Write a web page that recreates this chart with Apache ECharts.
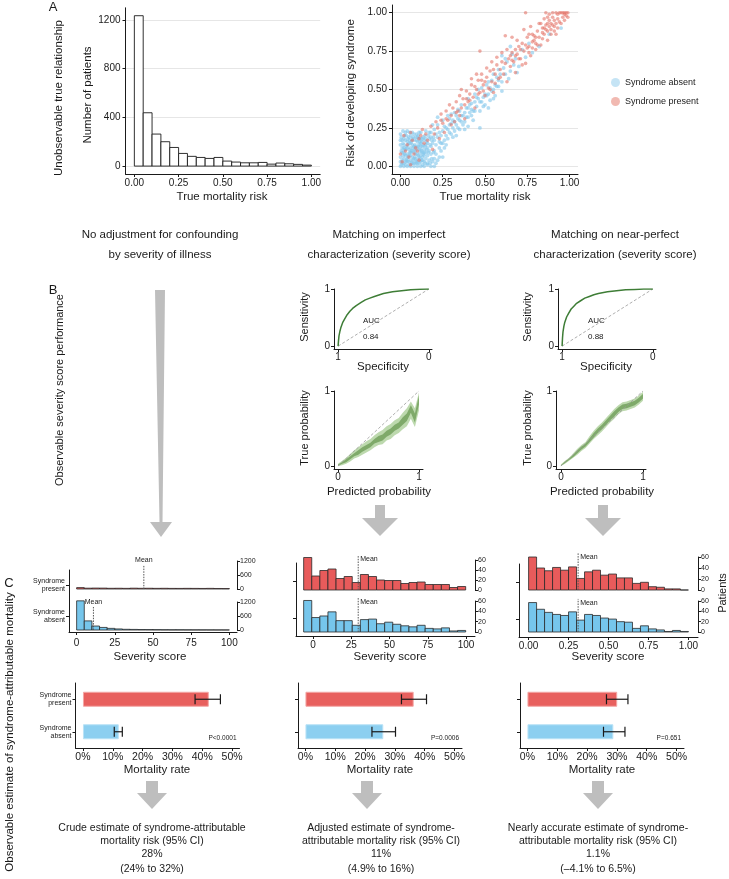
<!DOCTYPE html>
<html><head><meta charset="utf-8">
<script src="https://cdn.jsdelivr.net/npm/echarts@6/dist/echarts.min.js"></script>
<style>html,body{margin:0;padding:0;background:#fff}#c{width:729px;height:879px}</style>
</head><body><div id="c"></div>
<script>
// ---------------- DATA ----------------
// Panel A: histogram of true mortality risk
const histEdges = [0,0.05,0.1,0.15,0.2,0.25,0.3,0.35,0.4,0.45,0.5,0.55,0.6,0.65,0.7,0.75,0.8,0.85,0.9,0.95,1.0];
const histCounts = [1235,438,263,200,153,104,80,71,63,71,41,33,27,27,30,16,25,19,14,8];
const histXTicks = [0,0.25,0.5,0.75,1];
const histYTicks = [0,400,800,1200];
// Panel A: scatter [true mortality risk, risk of developing syndrome]
const scatterAbsent = [[0,0],[0.01,0.02],[0.02,0.05],[0.03,0.01],[0.04,0.08],[0.05,0.03],[0.06,0.12],[0.07,0.06],[0.08,0.02],[0.09,0.1],[0.1,0.04],[0.11,0.14],[0.12,0.07],[0.13,0.01],[0.14,0.11],[0.15,0.05],
[0.005,0.1],[0.015,0.15],[0.025,0.2],[0.035,0.13],[0.045,0.18],[0.055,0.22],[0.065,0.16],[0.075,0.19],[0.085,0.14],[0.095,0.17],[0.105,0.2],[0.115,0.09],[0.125,0.16],[0.135,0.19],[0.145,0.13],
[0,0.06],[0,0.14],[0,0.21],[0.01,0.09],[0.02,0.12],[0.03,0.17],[0.04,0.03],[0.05,0.11],[0.06,0.07],[0.07,0.14],[0.08,0.09],[0.09,0.05],[0.1,0.12],[0.11,0.02],[0.12,0.11],[0.13,0.06],[0.14,0.03],
[0.02,0],[0.04,0],[0.06,0],[0.08,0],[0.1,0],[0.12,0],[0.14,0],[0.16,0.01],[0.17,0.04],[0.18,0.08],[0.16,0.12],[0.19,0.15],[0.17,0.18],[0.2,0.1],[0.21,0.14],[0.22,0.19],[0.18,0.22],[0.2,0.05],
[0.01,0.04],[0.03,0.07],[0.05,0.15],[0.07,0.1],[0.09,0.02],[0.11,0.06],[0.13,0.13],[0.15,0.09],[0.02,0.18],[0.04,0.12],[0.06,0.04],[0.08,0.17],[0.1,0.08],[0.12,0.15],[0.14,0.17],[0.03,0.03],[0.05,0.07],[0.07,0.02],[0.09,0.13],[0.11,0.18],[0.01,0.12],[0.13,0.09],[0.15,0.14],[0.06,0.2],[0.08,0.05],[0.04,0.23],[0.1,0.16],[0.12,0.03],[0.02,0.09],[0.16,0.07],[0,0.17],[0.03,0.11],[0.07,0.18],[0.09,0.08],[0.11,0.11],[0.05,0.01],[0.13,0.04],[0.15,0.18],[0.17,0.1],[0.19,0.03],[0.08,0.21],[0.14,0.07],[0.06,0.09],[0.1,0.19],[0.12,0.18],[0,0.03],[0.02,0.14],[0.04,0.16],[0.18,0.13],[0.2,0.17],[0.12,0.22],
[0.005,0.01],[0.015,0.07],[0.025,0.11],[0.035,0.04],[0.045,0.14],[0.055,0.09],[0.065,0.02],[0.075,0.12],[0.085,0.06],[0.095,0.21],[0.105,0.13],[0.115,0.05],[0.125,0.1],[0.135,0.14],[0.145,0.2],[0.155,0.16],[0.165,0.09],[0.175,0.14],[0.185,0.05],[0.195,0.19],
[0.005,0.19],[0.015,0.23],[0.025,0.08],[0.035,0.2],[0.045,0.06],[0.055,0.17],[0.065,0.1],[0.075,0.04],[0.085,0.11],[0.095,0.03],[0.105,0.07],[0.115,0.16],[0.125,0.04],[0.135,0.08],[0.145,0.02],[0.155,0.11],[0.165,0.2],[0.175,0.02],[0.185,0.17],[0.195,0.09],
[0.01,0.17],[0.03,0.22],[0.05,0.19],[0.07,0.22],[0.09,0.19],[0.11,0.22],[0.13,0.18],[0.15,0.23],[0.02,0.02],[0.04,0.05],[0.06,0.15],[0.08,0.13],[0.1,0.02],[0.12,0.13],[0.14,0.09],[0.16,0.15],[0.18,0.19],[0.21,0.02],[0.23,0.06],[0.24,0.15],
[0.2,0.24],[0.22,0.27],[0.23,0.12],[0.24,0.2],[0.25,0.3],[0.26,0.17],[0.27,0.25],[0.28,0.33],[0.29,0.22],[0.3,0.28],[0.31,0.19],[0.32,0.35],[0.33,0.27],[0.34,0.31],[0.35,0.24],[0.36,0.4],[0.37,0.33],[0.38,0.29],[0.39,0.38],[0.4,0.44],[0.41,0.35],[0.42,0.41],[0.43,0.3],[0.44,0.47],[0.45,0.39],[0.46,0.44],[0.47,0.36],[0.48,0.51],[0.49,0.45],[0.5,0.4],[0.51,0.53],[0.52,0.47],[0.53,0.43],[0.54,0.56],[0.55,0.5],[0.56,0.46],[0.57,0.58],[0.58,0.52],[0.6,0.55],[0.62,0.6],[0.63,0.68],[0.65,0.62],[0.66,0.73],[0.68,0.7],[0.7,0.65],[0.72,0.76],[0.74,0.71],[0.76,0.8],[0.78,0.74],[0.82,0.78],[0.88,0.86],[0.95,0.9],
[0.21,0.08],[0.23,0.22],[0.25,0.15],[0.27,0.2],[0.29,0.27],[0.31,0.25],[0.33,0.2],[0.35,0.3],[0.24,0.1],[0.26,0.26],[0.28,0.18],[0.3,0.34],[0.32,0.23],[0.34,0.37],[0.36,0.29],[0.38,0.35],[0.4,0.32],[0.42,0.37],[0.44,0.42],[0.46,0.5],[0.48,0.42],[0.5,0.47],[0.52,0.55],[0.54,0.49],[0.56,0.53],[0.58,0.56],[0.6,0.49],[0.61,0.64],[0.64,0.57],[0.67,0.66],[0.69,0.61],[0.62,0.7],[0.58,0.63],[0.47,0.25],[0.4,0.26],[0.52,0.38],[0.22,0.32],[0.19,0.27],[0.17,0.22],[0.16,0.02],[0.2,0],[0.22,0.04],[0.25,0.06],[0.18,0],[0.6,0.72],[0.65,0.78],[0.55,0.6],
[0.21,0.21],[0.23,0.16],[0.25,0.23],[0.27,0.14],[0.29,0.31],[0.31,0.3],[0.33,0.33],[0.35,0.36],[0.37,0.27],[0.39,0.32],[0.41,0.4],[0.43,0.36],[0.45,0.45],[0.47,0.42],[0.49,0.39],[0.51,0.46],[0.53,0.51],[0.55,0.44],[0.57,0.52],[0.59,0.6],[0.26,0.12],[0.28,0.24],[0.3,0.21],[0.32,0.29],[0.34,0.25],[0.36,0.33],[0.38,0.24],[0.4,0.38],[0.42,0.33],[0.44,0.36]];
const scatterPresent = [[0.01,0.03],[0.03,0.1],[0.05,0.06],[0.07,0.17],[0.09,0.12],[0.11,0.04],[0.12,0.2],[0.14,0.15],[0.04,0.14],[0.02,0.2],[0.08,0.08],[0.1,0.1],[0.13,0.24],[0.15,0.21],[0.06,0.01],[0.16,0.17],[0.18,0.26],[0.19,0.11],[0.2,0.21],[0.21,0.29],[0,0.08],[0.06,0.22],[0.11,0.18],
[0.22,0.25],[0.23,0.18],[0.24,0.34],[0.25,0.28],[0.26,0.22],[0.27,0.36],[0.28,0.3],[0.29,0.4],[0.3,0.33],[0.31,0.38],[0.32,0.29],[0.33,0.42],[0.34,0.36],[0.35,0.46],[0.36,0.38],[0.37,0.44],[0.38,0.31],[0.39,0.49],[0.4,0.42],[0.41,0.47],[0.42,0.53],[0.43,0.45],[0.44,0.38],[0.45,0.5],[0.46,0.56],[0.47,0.48],[0.48,0.6],[0.49,0.53],[0.5,0.46],[0.51,0.58],[0.52,0.51],[0.53,0.62],[0.54,0.55],[0.55,0.48],[0.56,0.6],[0.57,0.66],[0.58,0.57],[0.59,0.63],[0.6,0.68],[0.61,0.6],[0.62,0.67],[0.63,0.55],[0.64,0.7],[0.65,0.65],[0.66,0.74],[0.67,0.68],[0.68,0.61],[0.69,0.73],[0.7,0.78],[0.71,0.7],[0.72,0.8],[0.73,0.75],[0.74,0.67],[0.75,0.84],[0.76,0.78],[0.77,0.72],[0.78,0.86],[0.79,0.82],[0.8,0.76],[0.81,0.88],[0.82,0.84],[0.83,0.79],[0.84,0.9],[0.85,0.86],[0.86,0.92],[0.87,0.82],[0.88,0.95],[0.89,0.89],[0.9,0.97],[0.91,0.91],[0.92,0.86],[0.93,0.99],[0.94,0.94],[0.95,1],[0.96,0.97],[0.97,0.99],[0.98,0.98],[0.9,1],[0.92,1],[0.86,1],[0.74,1],[0.88,0.99],[0.96,1],[0.85,0.96],[0.83,0.93],[0.87,0.88],[0.8,0.8],[0.78,0.77],[0.73,0.89],[0.69,0.82],[0.66,0.84],[0.63,0.76],[0.6,0.74],[0.57,0.71],[0.54,0.68],[0.51,0.64],[0.48,0.56],[0.45,0.6],[0.42,0.57],[0.39,0.44],[0.36,0.5],[0.33,0.35],[0.3,0.27],[0.27,0.31],[0.24,0.3],[0.47,0.75],[0.62,0.85],[0.49,0.49],[0.53,0.5],[0.56,0.54],[0.59,0.58],[0.44,0.52],[0.41,0.43],[0.38,0.4],[0.35,0.33],[0.46,0.47],[0.5,0.55],[0.55,0.63],[0.65,0.72],[0.7,0.7],[0.72,0.66],[0.75,0.77],[0.77,0.91],[0.79,0.85],[0.82,0.93],[0.84,0.83],[0.89,0.93],[0.91,0.95],[0.93,0.9],[0.97,0.95],[0.99,0.97],[0.94,1],[0.98,1],[0.87,0.97],[0.81,0.79],[0.76,0.86],[0.68,0.76],
[0.85,0.9],[0.87,0.93],[0.89,0.86],[0.91,0.88],[0.93,0.96],[0.95,0.93],[0.97,1],[0.99,1],[0.92,0.93],[0.9,0.92],[0.86,0.89],[0.88,0.91],[0.84,0.87],[0.8,0.84],[0.78,0.81],[0.76,0.74],[0.74,0.79],[0.71,0.76],[0.68,0.72],[0.66,0.69]];
const scatterTicks = [0,0.25,0.5,0.75,1];

// Panel B: ROC curves [specificity, sensitivity]
const rocSpec = [1,0.995,0.99,0.98,0.97,0.95,0.93,0.9,0.87,0.84,0.8,0.75,0.7,0.65,0.6,0.5,0.4,0.3,0.2,0.1,0];
const rocSensImperfect = [0,0.1,0.18,0.26,0.32,0.41,0.47,0.55,0.61,0.66,0.71,0.76,0.81,0.84,0.87,0.92,0.95,0.97,0.985,0.996,1];
const rocSensNearPerfect = [0,0.15,0.25,0.35,0.42,0.51,0.57,0.65,0.7,0.75,0.79,0.84,0.87,0.9,0.92,0.95,0.97,0.985,0.993,0.998,1];
const aucLabels = ['0.84','0.88'];
// Panel B: calibration bands
const calX = [0,0.05,0.1,0.15,0.2,0.25,0.3,0.35,0.4,0.45,0.5,0.55,0.6,0.65,0.7,0.75,0.8,0.85,0.9,0.95,1.0];
const cal2DarkLo  = [0.00,0.03,0.05,0.09,0.13,0.15,0.19,0.22,0.25,0.30,0.32,0.34,0.39,0.42,0.47,0.50,0.55,0.60,0.71,0.58,0.82];
const cal2DarkHi  = [0.02,0.05,0.09,0.13,0.17,0.21,0.25,0.28,0.31,0.36,0.40,0.42,0.47,0.50,0.55,0.58,0.65,0.70,0.81,0.70,0.94];
const cal2LightLo = [0.00,0.01,0.03,0.06,0.10,0.12,0.15,0.18,0.21,0.25,0.28,0.29,0.34,0.36,0.41,0.44,0.49,0.53,0.63,0.52,0.74];
const cal2LightHi = [0.03,0.07,0.11,0.16,0.21,0.25,0.29,0.33,0.36,0.41,0.45,0.48,0.53,0.56,0.61,0.64,0.71,0.77,0.86,0.77,0.98];
const cal3DarkLo  = [0.00,0.04,0.08,0.12,0.17,0.22,0.26,0.32,0.38,0.44,0.49,0.55,0.61,0.66,0.72,0.76,0.77,0.79,0.81,0.85,0.90];
const cal3DarkHi  = [0.01,0.06,0.10,0.15,0.21,0.26,0.30,0.37,0.44,0.50,0.55,0.61,0.67,0.73,0.78,0.82,0.83,0.85,0.87,0.91,0.96];
const cal3LightLo = [0.00,0.03,0.07,0.11,0.15,0.20,0.24,0.30,0.36,0.41,0.46,0.52,0.58,0.63,0.69,0.73,0.74,0.76,0.78,0.82,0.87];
const cal3LightHi = [0.02,0.07,0.11,0.17,0.23,0.28,0.32,0.40,0.47,0.53,0.58,0.64,0.70,0.76,0.81,0.85,0.86,0.88,0.90,0.94,0.99];

// Panel C: severity-score histograms
const sevEdges1 = [0,5,10,15,20,25,30,35,40,45,50,55,60,65,70,75,80,85,90,95,100];
const sevPresent1 = [60,35,40,38,30,32,28,35,30,32,28,30,26,25,28,26,24,27,22,20];
const sevAbsent1  = [1250,390,170,110,70,45,30,25,20,18,15,12,10,10,8,7,6,5,4,3];
const sevEdges2 = [-6.2,-0.9,4.4,9.7,15.0,20.3,25.6,30.9,36.2,41.5,46.8,52.1,57.4,62.7,68.0,73.3,78.6,83.9,89.2,94.5,99.8];
const sevPresent2 = [65,28,39,42,23,27,15,31,27,20,19,19,13,15,16,11,11,11,5,7];
const sevAbsent2  = [61,28,31,39,22,22,13,24,25,16,19,15,12,10,13,7,6,8,2,3];
const sevEdges3 = [0,0.05,0.1,0.15,0.2,0.25,0.3,0.35,0.4,0.45,0.5,0.55,0.6,0.65,0.7,0.75,0.8,0.85,0.9,0.95,1.0];
const sevPresent3 = [60,40,35,41,36,42,21,33,36,27,29,22,22,12,14,6,5,2,2,0];
const sevAbsent3  = [57,44,38,34,32,39,23,34,32,27,25,20,19,7,12,6,4,1,3,1];
const meanPresent = [44, 29.5, 0.31];
const meanAbsent  = [11, 29.5, 0.31];
const sevTicks1 = [0,25,50,75,100];
const sevTicks2 = [0,25,50,75,100];
const sevTicks3 = [0,0.25,0.5,0.75,1];
const groupCats = ['Syndrome absent','Syndrome present'];
// Panel C: mortality rates (%)
const mortPresent = [42.2, 36.3, 30.1];
const mortPresentLo = [37.6, 32.2, 26.5];
const mortPresentHi = [46.1, 40.6, 33.7];
const mortAbsent = [12.0, 26.1, 28.8];
const mortAbsentLo = [10.5, 22.3, 25.5];
const mortAbsentHi = [13.2, 30.2, 32.7];
const mortTicks = [0,10,20,30,40,50];
const pValues = ['P<0.0001','P=0.0006','P=0.651'];
// Bottom estimates
const estLine1 = ['Crude estimate of syndrome-attributable','Adjusted estimate of syndrome-','Nearly accurate estimate of syndrome-'];
const estLine2 = ['mortality risk (95% CI)','attributable mortality risk (95% CI)','attributable mortality risk (95% CI)'];
const estValue = ['28%','11%','1.1%'];
const estCI = ['(24% to 32%)','(4.9% to 16%)','(\u20134.1% to 6.5%)'];
const colHeads = [['No adjustment for confounding','by severity of illness'],['Matching on imperfect','characterization (severity score)'],['Matching on near-perfect','characterization (severity score)']];

// ---------------- STYLE / BUILD ----------------
const FONT = "'Liberation Sans', Arial, Helvetica, sans-serif";
const INK = '#1a1a1a';
const RED = '#E85B5B', BLUE = '#76C6EC';
const grids = [], xAxes = [], yAxes = [], series = [], graphics = [];
const plain = v => String(v);

function ax(o) {
  const base = {
    axisLine: {show: true, onZero: false, lineStyle: {color: INK, width: 1}},
    axisTick: {show: true, length: 3, lineStyle: {color: INK, width: 1}},
    axisLabel: {color: INK, fontSize: 10, fontFamily: FONT, formatter: plain},
    splitLine: {show: false}
  };
  for (const k in o) {
    if (base[k] && o[k] && typeof o[k] === 'object' && !Array.isArray(o[k])) base[k] = Object.assign({}, base[k], o[k]);
    else base[k] = o[k];
  }
  return base;
}
function addGrid(g, xa, ya) {
  grids.push(g);
  const i = grids.length - 1;
  xa.gridIndex = i; ya.gridIndex = i;
  xAxes.push(xa); yAxes.push(ya);
  return i;
}
function rectRender(fill, stroke, lw) {
  return function (params, api) {
    const p0 = api.coord([api.value(0), 0]);
    const p1 = api.coord([api.value(1), api.value(2)]);
    return {type: 'rect', shape: {x: p0[0], y: p1[1], width: p1[0] - p0[0], height: p0[1] - p1[1]},
      style: {fill: fill, stroke: stroke, lineWidth: lw}};
  };
}
function histSeries(gi, edges, counts, fill, stroke, lw) {
  series.push({type: 'custom', xAxisIndex: gi, yAxisIndex: gi, silent: true, clip: false,
    encode: {x: [0, 1], y: 2},
    data: counts.map((c, i) => [edges[i], edges[i + 1], c]),
    renderItem: rectRender(fill, stroke, lw)});
}
function bandSeries(gi, xs, lo, hi, color, z) {
  series.push({type: 'custom', xAxisIndex: gi, yAxisIndex: gi, silent: true, z: z,
    data: [[xs[0], lo[0]]],
    renderItem: function (params, api) {
      const pts = [];
      for (let i = 0; i < xs.length; i++) pts.push(api.coord([xs[i], hi[i]]));
      for (let i = xs.length - 1; i >= 0; i--) pts.push(api.coord([xs[i], lo[i]]));
      return {type: 'polygon', shape: {points: pts}, style: {fill: color}};
    }});
}
function meanSeries(gi, mean, lineTop, mode) {
  series.push({type: 'custom', xAxisIndex: gi, yAxisIndex: gi, silent: true, clip: false, z: 5,
    data: [[mean]],
    renderItem: function (params, api) {
      const m = api.value(0);
      const p0 = api.coord([m, 0]), p1 = api.coord([m, lineTop]);
      const line = {type: 'line', shape: {x1: p0[0], y1: p0[1], x2: p1[0], y2: p1[1]},
        style: {stroke: '#555', lineWidth: 1, lineDash: [1.5, 1.2]}};
      const t = mode === 'above'
        ? {type: 'text', x: p1[0], y: p1[1] - 1, style: {text: 'Mean', fontSize: 7, fontFamily: FONT, fill: INK, align: 'center', verticalAlign: 'bottom'}}
        : {type: 'text', x: p1[0] + 2, y: p1[1] + 0.5, style: {text: 'Mean', fontSize: 7, fontFamily: FONT, fill: INK, align: 'left', verticalAlign: 'top'}};
      return {type: 'group', children: [line, t]};
    }});
}
function txt(x, y, s, size, o) {
  o = o || {};
  return {type: 'text', x: x, y: y, rotation: o.rot || 0, silent: true, z: 20,
    style: {text: s, fontSize: size, fontFamily: FONT, fill: o.fill || INK, align: o.align || 'center', verticalAlign: o.va || 'middle'}};
}
function arrow(pts) {
  graphics.push({type: 'polygon', silent: true, z: 1, shape: {points: pts}, style: {fill: '#BEBEBE'}});
}

// ---- Panel A histogram
const gA = addGrid({left: 125.5, top: 7.8, width: 194.7, height: 166.2},
  ax({type: 'value', min: -0.05, max: 1.05, axisTick: {customValues: histXTicks}, axisLabel: {customValues: histXTicks, formatter: v => v.toFixed(2), margin: 4}}),
  ax({type: 'value', min: -65, max: 1300, axisTick: {customValues: histYTicks}, axisLabel: {customValues: histYTicks, margin: 5},
      splitLine: {show: true, customValues: histYTicks, lineStyle: {color: '#E6E6E6', width: 1}}}));
histSeries(gA, histEdges, histCounts, '#ffffff', INK, 0.9);

// ---- Panel A scatter
const gS = addGrid({left: 392, top: 5, width: 186, height: 169},
  ax({type: 'value', min: -0.05, max: 1.05, axisTick: {customValues: scatterTicks}, axisLabel: {customValues: scatterTicks, formatter: v => v.toFixed(2), margin: 4}}),
  ax({type: 'value', min: -0.05, max: 1.05, axisTick: {customValues: scatterTicks}, axisLabel: {customValues: scatterTicks, formatter: v => v.toFixed(2), margin: 5},
      splitLine: {show: true, customValues: scatterTicks, lineStyle: {color: '#E6E6E6', width: 1}}}));
series.push({type: 'scatter', name: 'Syndrome absent', xAxisIndex: gS, yAxisIndex: gS, data: scatterAbsent, symbolSize: 3.8, silent: true,
  itemStyle: {color: 'rgba(130,198,235,0.75)'}});
series.push({type: 'scatter', name: 'Syndrome present', xAxisIndex: gS, yAxisIndex: gS, data: scatterPresent, symbolSize: 3.6, silent: true,
  itemStyle: {color: 'rgba(228,112,100,0.72)'}});

// ---- Panel B ROC
function rocGrid(left, sens) {
  const g = addGrid({left: left, top: 289, width: 98, height: 60},
    ax({type: 'value', min: -0.035, max: 1.045, inverse: true, axisTick: {customValues: [0, 1]}, axisLabel: {customValues: [0, 1], margin: 3}}),
    ax({type: 'value', min: -0.05, max: 1, axisTick: {customValues: [0, 1]}, axisLabel: {customValues: [0, 1], margin: 4}}));
  series.push({type: 'line', xAxisIndex: g, yAxisIndex: g, data: [[1, 0], [0, 1]], showSymbol: false, silent: true,
    lineStyle: {color: '#9a9a9a', width: 0.8, type: [3, 2]}});
  series.push({type: 'line', xAxisIndex: g, yAxisIndex: g, data: rocSpec.map((s, i) => [s, sens[i]]), showSymbol: false, silent: true,
    lineStyle: {color: '#3E7D36', width: 1.5}});
  return g;
}
rocGrid(334, rocSensImperfect);
rocGrid(558, rocSensNearPerfect);

// ---- Panel B calibration
function calGrid(left, width, xmin, xmax, dLo, dHi, lLo, lHi) {
  const g = addGrid({left: left, top: 391, width: width, height: 78},
    ax({type: 'value', min: xmin, max: xmax, axisTick: {customValues: [0, 1]}, axisLabel: {customValues: [0, 1], margin: 3}}),
    ax({type: 'value', min: -0.04, max: 1, axisTick: {customValues: [0, 1]}, axisLabel: {customValues: [0, 1], margin: 4}}));
  bandSeries(g, calX, lLo, lHi, '#BDD9AE', 2);
  bandSeries(g, calX, dLo, dHi, '#7FAA6A', 3);
  series.push({type: 'line', xAxisIndex: g, yAxisIndex: g, data: [[0, 0], [1, 1]], showSymbol: false, silent: true, z: 4,
    lineStyle: {color: '#9a9a9a', width: 0.8, type: [3, 2]}});
  return g;
}
calGrid(334, 89, -0.05, 1.05, cal2DarkLo, cal2DarkHi, cal2LightLo, cal2LightHi);
calGrid(556, 90, -0.06, 1.037, cal3DarkLo, cal3DarkHi, cal3LightLo, cal3LightHi);

// ---- Panel C histograms
const cCols = [
  {left: 69, width: 168, min: -5, max: 105, ticks: sevTicks1, fmt: plain, frameTop: 570, frameH: 62, margin: 6,
   top: {t: 561, h: 28, max: 1200, iv: 600}, bot: {t: 602, h: 28, max: 1200, iv: 600},
   edges: sevEdges1, pres: sevPresent1, abs: sevAbsent1, mTopP: 1030, mTopA: 986, mode: 'above', labels: true},
  {left: 296, width: 179, min: -11.2, max: 105.9, ticks: sevTicks2, fmt: plain, frameTop: 563, frameH: 73, margin: 4,
   top: {t: 560, h: 30, max: 60, iv: 20}, bot: {t: 601, h: 31, max: 60, iv: 20},
   edges: sevEdges2, pres: sevPresent2, abs: sevAbsent2, mTopP: 70, mTopA: 66, mode: 'right', labels: false},
  {left: 519, width: 179, min: -0.06, max: 1.06, ticks: sevTicks3, fmt: v => v.toFixed(2), frameTop: 564, frameH: 73, margin: 4,
   top: {t: 557, h: 33, max: 60, iv: 20}, bot: {t: 601, h: 31, max: 60, iv: 20},
   edges: sevEdges3, pres: sevPresent3, abs: sevAbsent3, mTopP: 67, mTopA: 64, mode: 'right', labels: false}
];
cCols.forEach((c, ci) => {
  addGrid({left: c.left, top: c.frameTop, width: c.width, height: c.frameH},
    ax({type: 'value', min: c.min, max: c.max, axisTick: {customValues: c.ticks}, axisLabel: {customValues: c.ticks, formatter: c.fmt, margin: c.margin}}),
    ax({type: 'category', data: groupCats, axisTick: {alignWithLabel: true}, axisLabel: {show: c.labels, fontSize: 7, lineHeight: 8, margin: 4,
      formatter: v => v.replace(' ', '\n')}}));
  [[c.top, c.pres, RED, meanPresent[ci], c.mTopP], [c.bot, c.abs, BLUE, meanAbsent[ci], c.mTopA]].forEach(([gd, vals, col, mean, mTop]) => {
    const g = addGrid({left: c.left, top: gd.t, width: c.width, height: gd.h},
      {type: 'value', min: c.min, max: c.max, show: false},
      ax({type: 'value', position: 'right', min: 0, max: gd.max, interval: gd.iv, axisLabel: {fontSize: 7, margin: 3}}));
    histSeries(g, c.edges, vals, col, '#2a2a2a', 0.8);
    meanSeries(g, mean, mTop, c.mode);
  });
});

// ---- Panel C mortality bars
const barLefts = [75.5, 298, 520];
barLefts.forEach((left, ci) => {
  const g = addGrid({left: left, top: 683, width: 164, height: 65},
    ax({type: 'value', min: -2.5, max: 52.5, axisTick: {customValues: mortTicks}, axisLabel: {customValues: mortTicks, formatter: v => v + '%', margin: 4, fontSize: 10.5}}),
    ax({type: 'category', data: groupCats, axisTick: {alignWithLabel: true}, axisLabel: {show: ci === 0, fontSize: 7, lineHeight: 8, margin: 4,
      formatter: v => v.replace(' ', '\n')}}));
  series.push({type: 'bar', xAxisIndex: g, yAxisIndex: g, barWidth: 15, silent: true,
    data: [{value: mortAbsent[ci], itemStyle: {color: '#8CCFF0', borderColor: '#B9E2F6', borderWidth: 1}},
           {value: mortPresent[ci], itemStyle: {color: '#E8605E', borderColor: '#F3A7A5', borderWidth: 1}}]});
  series.push({type: 'custom', xAxisIndex: g, yAxisIndex: g, silent: true, z: 5, encode: {x: [0, 1], y: 2},
    data: [[mortAbsentLo[ci], mortAbsentHi[ci], 0], [mortPresentLo[ci], mortPresentHi[ci], 1]],
    renderItem: function (params, api) {
      const a = api.coord([api.value(0), api.value(2)]), b = api.coord([api.value(1), api.value(2)]);
      const st = {stroke: INK, lineWidth: 1.2};
      return {type: 'group', children: [
        {type: 'line', shape: {x1: a[0], y1: a[1], x2: b[0], y2: b[1]}, style: st},
        {type: 'line', shape: {x1: a[0], y1: a[1] - 5, x2: a[0], y2: a[1] + 5}, style: st},
        {type: 'line', shape: {x1: b[0], y1: b[1] - 5, x2: b[0], y2: b[1] + 5}, style: st}]};
    }});
  graphics.push(txt(left + 161, 738, pValues[ci], 6.5, {align: 'right'}));
});

// ---------------- ANNOTATIONS ----------------
const R = Math.PI / 2;
graphics.push(txt(53, 7, 'A', 13));
graphics.push(txt(53, 290, 'B', 13));
graphics.push(txt(9, 583, 'C', 13));
graphics.push(txt(59, 98, 'Unobservable true relationship', 11.5, {rot: R}));
graphics.push(txt(88, 95, 'Number of patients', 11.5, {rot: R}));
graphics.push(txt(222, 197, 'True mortality risk', 11.5));
graphics.push(txt(351, 93, 'Risk of developing syndrome', 11.5, {rot: R}));
graphics.push(txt(485, 197, 'True mortality risk', 11.5));
graphics.push(txt(60, 390, 'Observable severity score performance', 11, {rot: R}));
graphics.push(txt(10, 732, 'Observable estimate of syndrome-attributable mortality', 11.5, {rot: R}));
const headX = [160, 389, 615];
colHeads.forEach((h, i) => { graphics.push(txt(headX[i], 235, h[0], 11.5)); graphics.push(txt(headX[i], 255, h[1], 11.5)); });
// ROC / calibration labels
[[305, 383, 363], [528, 606, 588]].forEach(([yl, xc, ax0], i) => {
  graphics.push(txt(yl, 317, 'Sensitivity', 11, {rot: R}));
  graphics.push(txt(xc, 367, 'Specificity', 11.5));
  graphics.push(txt(ax0, 321, 'AUC', 8, {align: 'left'}));
  graphics.push(txt(ax0, 337, aucLabels[i], 8, {align: 'left'}));
  graphics.push(txt(yl, 428, 'True probability', 11, {rot: R}));
  graphics.push(txt(xc - 4, 492, 'Predicted probability', 11.5));
});
// Panel C titles
[150, 390, 608].forEach(x => graphics.push(txt(x, 657, 'Severity score', 11.5)));
graphics.push(txt(723, 593, 'Patients', 11, {rot: R}));
[157, 380, 602].forEach(x => graphics.push(txt(x, 770, 'Mortality rate', 11.5)));
// bottom estimates
const estX = [152, 381, 598];
estX.forEach((x, i) => {
  graphics.push(txt(x, 828, estLine1[i], 10.5));
  graphics.push(txt(x, 841, estLine2[i], 10.5));
  graphics.push(txt(x, 854, estValue[i], 10.5));
  graphics.push(txt(x, 869, estCI[i], 10.5));
});
// arrows
arrow([[155, 290], [165, 290], [162.5, 522], [172, 522], [161, 537], [150, 522], [159.5, 522]]);
arrow([[375, 505], [385, 505], [385, 518], [398, 518], [380, 536], [362, 518], [375, 518]]);
arrow([[598, 505], [608, 505], [608, 518], [621, 518], [603, 536], [585, 518], [598, 518]]);
[152, 367, 598].forEach(cx => arrow([[cx - 6, 781], [cx + 6, 781], [cx + 6, 793], [cx + 15, 793], [cx, 809], [cx - 15, 793], [cx - 6, 793]]));

const chart = echarts.init(document.getElementById('c'), null, {renderer: 'canvas'});
chart.setOption({
  animation: false,
  backgroundColor: '#ffffff',
  textStyle: {fontFamily: FONT},
  legend: {data: [{name: 'Syndrome absent', itemStyle: {color: '#B7DDF2'}}, {name: 'Syndrome present', itemStyle: {color: '#EDA79E'}}],
    orient: 'vertical', left: 606, top: 73, icon: 'circle', itemWidth: 9, itemHeight: 9, itemGap: 10, selectedMode: false,
    textStyle: {fontSize: 9, color: INK, fontFamily: FONT}},
  grid: grids, xAxis: xAxes, yAxis: yAxes, series: series, graphic: graphics
});
</script></body></html>
